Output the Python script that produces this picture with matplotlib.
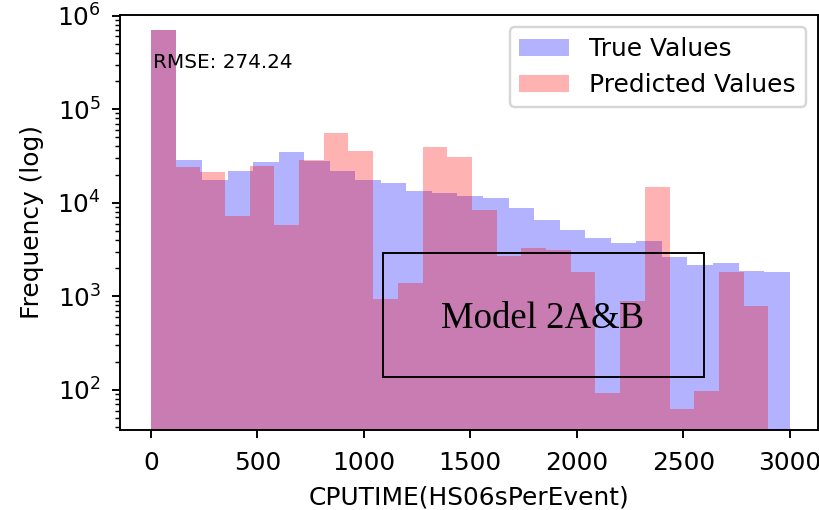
"""
CPUTIME 真实值与预测值分布直方图（对数纵轴）。
"""

import matplotlib
matplotlib.use("Agg")
import matplotlib.pyplot as plt
from matplotlib.patches import Rectangle
import numpy as np

# ========================= 数据 =========================

N_BINS = 25
TRUE_RANGE = (0, 3000)
PRED_RANGE = (0, 2900)

# 每个 bin 的样本数（真实值）
true_counts = [700000, 28600, 17500, 22000, 27500, 34600, 28000, 21900, 17500, 16100,
               13500, 12800, 11800, 11200, 8800, 6600, 5100, 4240, 3720, 3900,
               2620, 2180, 2260, 1870, 1800]

# 每个 bin 的样本数（预测值）
pred_counts = [700000, 24300, 21100, 7300, 25000, 5800, 28600, 55600, 35700, 940,
               1380, 39200, 31100, 8400, 2720, 3270, 3130, 1840, 92, 890,
               14700, 62, 97, 1840, 780]

RMSE = 274.24
MODEL_NAME = "Model 2A&B"

DPI = 172
plt.rcParams["font.size"] = 10.4
plt.rcParams["xtick.major.pad"] = 5.5
plt.rcParams["ytick.major.pad"] = 4.3

# ======================== 绘图 =========================

fig = plt.figure(figsize=(820 / DPI, 510 / DPI), dpi=DPI)
ax = fig.add_axes([0.1463, 0.1569, 0.8513, 0.8143])

true_edges = np.linspace(*TRUE_RANGE, N_BINS + 1)
pred_edges = np.linspace(*PRED_RANGE, N_BINS + 1)

ax.hist(true_edges[:-1], bins=true_edges, weights=true_counts,
        color="blue", alpha=0.3, label="True Values")
ax.hist(pred_edges[:-1], bins=pred_edges, weights=pred_counts,
        color="red", alpha=0.3, label="Predicted Values")

ax.set_yscale("log")
ax.set_xlim(-145, 3133)
ax.set_ylim(37.4, 1.022e6)
ax.set_xlabel("CPUTIME(HS06sPerEvent)")
ax.set_ylabel("Frequency (log)", labelpad=5.7)
ax.legend(loc="upper right")

ax.text(0.048, 0.907, f"RMSE: {RMSE:.2f}", transform=ax.transAxes,
        fontsize=8.4, va="top", ha="left")

# 模型标注框
fig.add_artist(Rectangle((0.4674, 0.2614), 0.3915, 0.2431, transform=fig.transFigure,
                         fill=False, edgecolor="black", linewidth=0.8))
fig.text(0.6616, 0.3563, MODEL_NAME, ha="center", va="baseline",
         family=["Liberation Serif", "DejaVu Serif"], fontsize=15.4)

fig.savefig("out.png", dpi=DPI)
plt.close(fig)
